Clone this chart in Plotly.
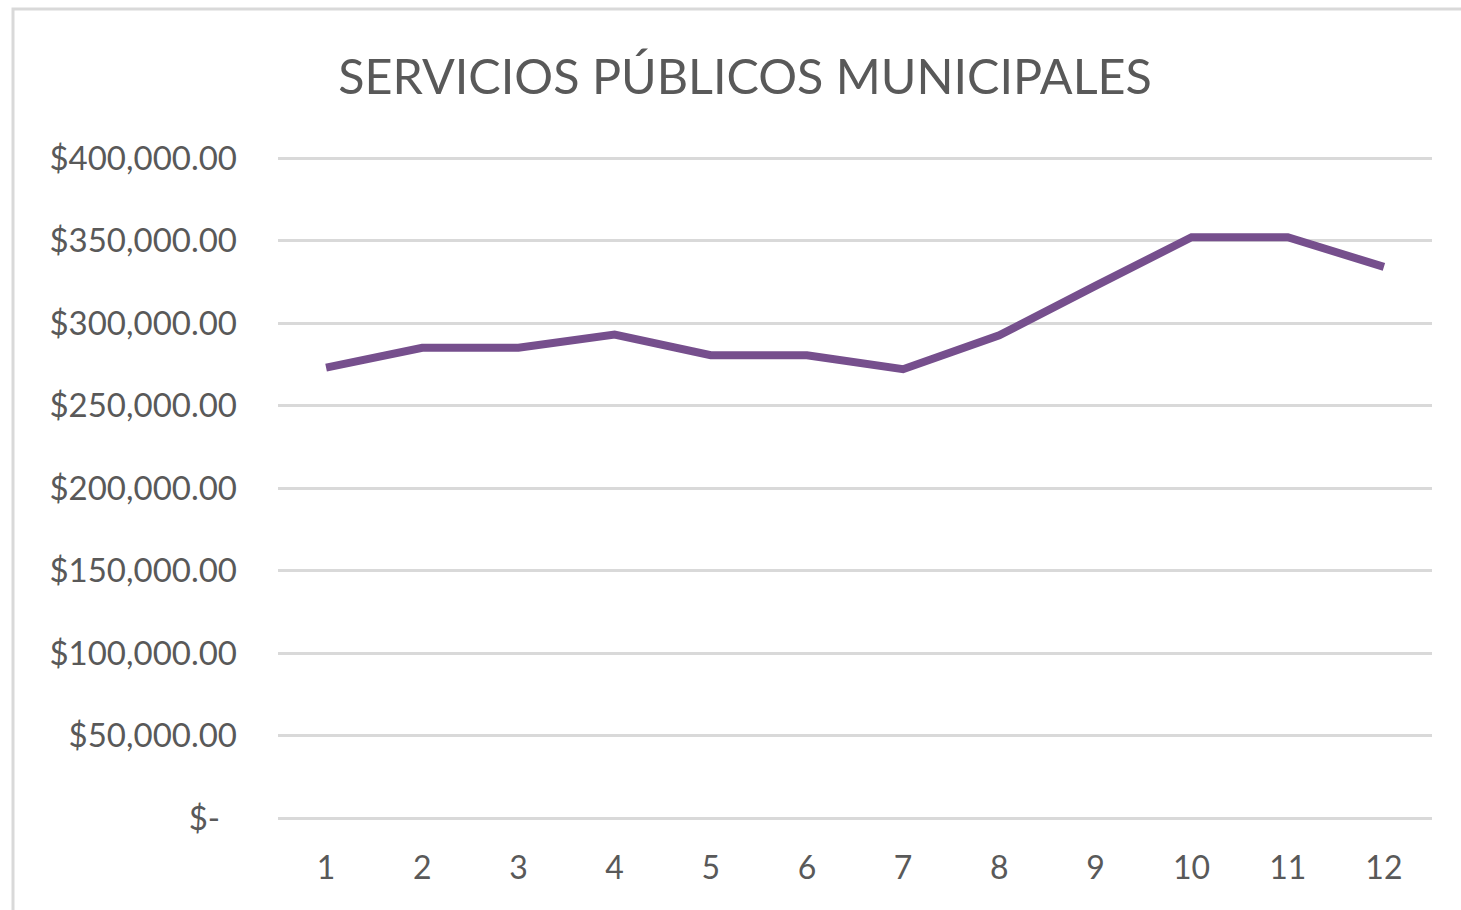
import plotly.graph_objects as go

months = [1, 2, 3, 4, 5, 6, 7, 8, 9, 10, 11, 12]
values = [273000, 285000, 285000, 293000, 280500, 280500, 272000, 292500, 322500, 352000, 352000, 334000]
ytick_vals = [0, 50000, 100000, 150000, 200000, 250000, 300000, 350000, 400000]
ytick_text = ["$-\u00a0\u00a0", "$50,000.00", "$100,000.00", "$150,000.00", "$200,000.00",
              "$250,000.00", "$300,000.00", "$350,000.00", "$400,000.00"]
title_text = "SERVICIOS PÚBLICOS MUNICIPALES"

W, H = 1461, 910
PAD = 3  # px of breathing room so edge gridlines are drawn
L, R, T, B = 278, 29, 158 - PAD, 92 - PAD
pw, ph = W - L - R, H - T - B
ypad = PAD * 400000 / (ph - 2 * PAD)

fig = go.Figure()
fig.add_trace(go.Scatter(
    x=months, y=values, mode="lines",
    line=dict(color="#764F8D", width=8),
    hoverinfo="x+y", showlegend=False,
))

font_family = "Lato, 'Open Sans', sans-serif"
fig.update_layout(
    width=W, height=H,
    margin=dict(l=L, r=R, t=T, b=B, pad=0),
    paper_bgcolor="white", plot_bgcolor="white",
    font=dict(family=font_family, color="#595959"),
    title=dict(text=title_text, x=745 / W, xref="container", xanchor="center",
               y=1 - 77 / H, yref="container", yanchor="middle",
               font=dict(size=48.5, color="#595959", family=font_family)),
    xaxis=dict(range=[0.5, 12.5], tickmode="array", tickvals=months,
               ticktext=[str(m) for m in months],
               showgrid=False, zeroline=False, showline=False,
               ticks="", ticklabelstandoff=28 - PAD,
               tickfont=dict(size=32, color="#595959")),
    yaxis=dict(range=[-ypad, 400000 + ypad], tickmode="array", tickvals=ytick_vals,
               ticktext=ytick_text, showgrid=True, gridcolor="#d9d9d9", gridwidth=2.5,
               zeroline=False, showline=False, ticks="", ticklabelstandoff=40,
               tickfont=dict(size=33, color="#595959")),
    shapes=[dict(type="rect", xref="paper", yref="paper",
                 x0=(13 - L) / pw, x1=1 + (W + 20 - (W - R)) / pw,
                 y0=-(B + 20) / ph, y1=1 + (T - 9) / ph,
                 line=dict(color="#d9d9d9", width=3), fillcolor="rgba(0,0,0,0)",
                 layer="below")],
)

fig.write_html("out.html", config={"displayModeBar": False},
               post_script="document.body.style.margin='0';document.body.style.overflow='hidden';")
